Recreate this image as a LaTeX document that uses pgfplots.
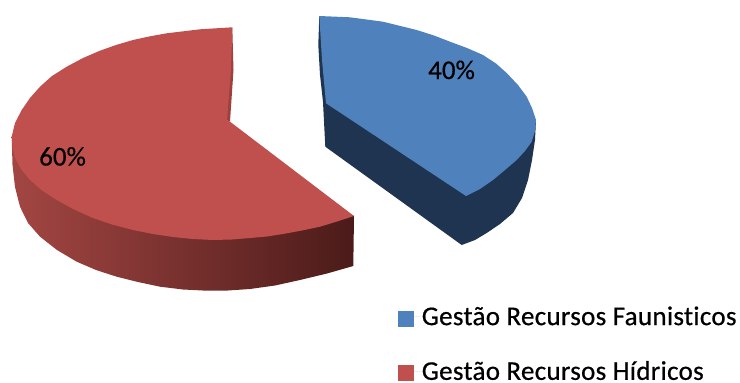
\documentclass[border=0pt]{standalone}
\usepackage{pgfplots}
\pgfplotsset{compat=1.18}
\usepackage{fontspec}
\setmainfont{Carlito}
\newfontfamily\chartfont[FakeBold=0.6,Ligatures=NoCommon,LetterSpace=1.2]{Carlito}
\newfontfamily\labelfont[FakeBold=0.5,Ligatures=NoCommon]{Carlito}
\definecolor{blueTop}{HTML}{4F81BD}
\definecolor{blueSide}{HTML}{1E3450}
\definecolor{redTop}{HTML}{C0504D}
\definecolor{redInner}{HTML}{9E403D}
\definecolor{redSideL}{HTML}{A34643}
\definecolor{redSideR}{HTML}{4B1B19}
\begin{document}
\begin{tikzpicture}
\begin{axis}[
  scale only axis, width=740pt, height=383pt,
  xmin=0, xmax=740, ymin=0, ymax=383, y dir=reverse,
  hide axis, clip=false,
  legend cell align=left,
  legend image code/.code={\fill[#1] (0pt,-10pt) rectangle (16pt,6pt); \path (0pt,0pt) -- (22pt,0pt);},
  legend style={at={(axis cs:398.3,305)}, anchor=north west, draw=none, fill=none,
    font=\chartfont\fontsize{27}{29}\selectfont, row sep=31.5pt,
    inner sep=0pt, outer sep=0pt, nodes={inner sep=1.5pt}},
]
% Explicit page extent
\addplot[draw=none, forget plot] coordinates {(0,0) (740,383)};

% 40% slice: side wall, then top face
\addplot[fill=blueSide, draw=none, forget plot] coordinates {
  (319.3,16) (318.3,45) (320,75) (323,102) (325.3,146.7) (461.7,245)
  (475,240) (486.7,233) (500,224) (513,213) (522,198) (528,180) (532,160) (535,140) (536,120)
} -- cycle;
\addplot[fill=blueTop, draw=none] coordinates {
  (319.3,16) (350,17.3) (383,21.7) (416.7,30) (434,35.5) (450,41.7) (467,48) (483,55) (496,63.5) (506.7,73)
  (518,85) (526.7,96.7) (532,108) (536,120) (535,131) (531.7,141.7) (525,151) (516.7,160) (505,170) (493,180)
  (480,189) (466,196) (326,103.3) (322,60)
} -- cycle;
\addlegendentry{Gestão Recursos Faunisticos}

% 60% slice: outer wall, inner wall, then top face
\addplot[left color=redSideL, right color=redSideR, draw=none, forget plot] coordinates {
  (11.7,136.7) (12.5,165) (15,187) (20,206.7) (28,223) (40,236.7) (57,250) (76.7,261.7) (96,270) (116.7,276.7) (138,282)
  (160,286.7) (183,289.5) (206.7,290.7) (228,290.5) (250,289) (275,285.5) (300,280) (327,273.5) (353.3,266)
  (354,216) (320,200) (100,200)
} -- cycle;
\addplot[fill=redInner, draw=none, forget plot] coordinates {
  (232.3,27.3) (233.5,70) (230,121.7) (226.5,120) (230,70)
} -- cycle;
\addplot[fill=redTop, draw=none] coordinates {
  (232.3,27.3) (200,29.3) (166.7,33.3) (150,36.3) (133,40) (116,45) (100,50.7) (83,58) (66.7,66.7) (52,76)
  (40,86.7) (30,98) (21.7,110) (15,123) (11.7,136.7) (12.5,148) (15,158) (21,169) (30,180) (42,190.5) (56.7,200)
  (74,209.5) (93,218) (112,224.5) (133,230) (153,234) (173,237) (193,239) (213,240) (232,239.5) (250,238) (267,236.5) (283,234)
  (302,230.5) (320,226.7) (337,221.5) (354,216) (230,121.7) (227,120) (231,70)
} -- cycle;
\addlegendentry{Gestão Recursos Hídricos}

\node[font=\labelfont\fontsize{27}{29}\selectfont, anchor=base west, inner sep=0pt] at (axis cs:428,79) {40\%};
\node[font=\labelfont\fontsize{27}{29}\selectfont, anchor=base west, inner sep=0pt] at (axis cs:39,165.5) {60\%};
\end{axis}
\end{tikzpicture}
\end{document}
